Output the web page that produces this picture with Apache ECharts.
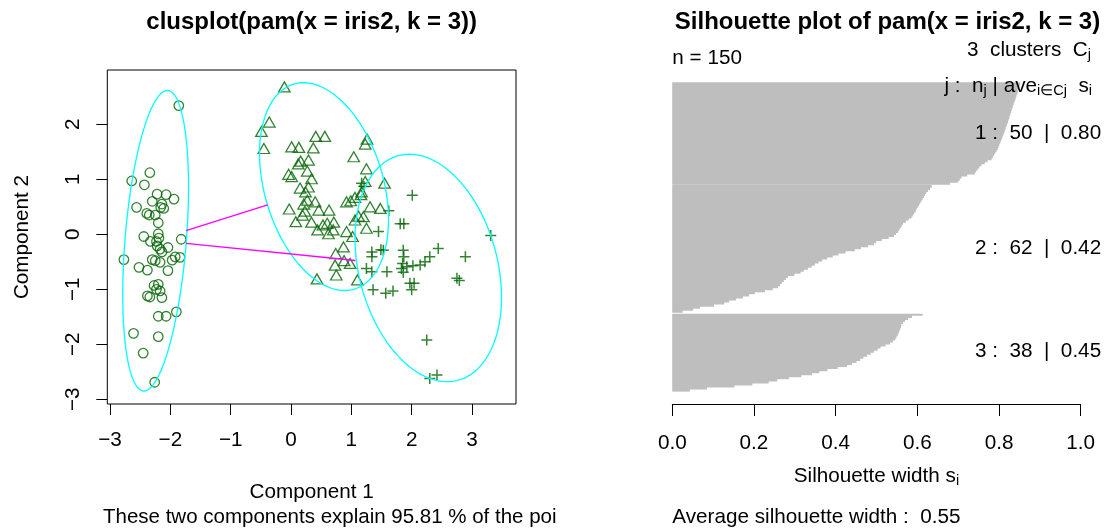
<!DOCTYPE html>
<html><head><meta charset="utf-8">
<script src="https://cdn.jsdelivr.net/npm/echarts@6/dist/echarts.min.js"></script>
<style>html,body{margin:0;padding:0;background:#fff}#c{width:1112px;height:528px}</style>
</head><body><div id="c"></div>
<script>
// ---------- clusplot data (Component 1 / Component 2) ----------
const clus1X = [-1.86,-2.34,-2.64,-2.43,-2.22,-2.07,-1.94,-2.30,-2.14,-2.56,-2.16,-2.11,-2.39,-2.35,-2.25,-2.20,-2.20,-2.44,-1.82,-2.33,-2.23,-2.22,-2.04,-2.17,-2.14,-2.77,-1.84,-1.92,-2.30,-2.25,-2.17,-1.97,-2.52,-2.38,-2.04,-2.20,-2.23,-2.17,-2.38,-2.34,-2.14,-1.90,-2.20,-2.07,-2.61,-2.20,-2.45,-2.26,-2.19,-2.27];
const clus1Y = [2.34,1.12,0.97,0.90,0.73,0.72,0.64,0.60,0.55,0.49,0.49,0.47,0.38,0.35,0.35,0.21,0.01,-0.04,-0.09,-0.13,-0.13,-0.21,-0.24,-0.27,-0.32,-0.46,-0.42,-0.41,-0.46,-0.48,-0.51,-0.47,-0.60,-0.65,-0.66,-0.91,-1.00,-1.03,-1.12,-1.14,-1.15,-1.41,-1.49,-1.49,-1.80,-1.86,-2.16,-2.69,-0.07,-0.93];
const clus2X = [-0.11,-0.36,-0.49,-0.45,0.41,0.56,0.01,0.13,0.37,1.26,1.23,1.04,0.16,0.29,1.25,0.27,-0.04,0.01,0.34,1.23,1.55,0.15,0.29,0.24,1.16,1.06,0.99,0.27,0.40,-0.03,0.23,0.46,0.63,1.31,1.48,0.19,0.08,0.34,0.60,0.71,1.12,1.06,1.25,0.44,0.62,0.70,0.92,1.02,0.87,0.74,0.73,0.88,0.75,0.43,1.10,0.98,0.92,1.20,1.17,0.21,0.12,0.53];
const clus2Y = [2.68,2.04,1.87,1.56,1.78,1.78,1.59,1.58,1.57,1.73,1.64,1.41,1.33,1.35,1.19,1.15,1.09,1.05,1.01,0.96,0.93,0.84,0.86,0.77,0.72,0.67,0.61,0.62,0.59,0.46,0.42,0.44,0.44,0.50,0.47,0.35,0.23,0.22,0.20,0.22,0.33,0.26,0.11,0.08,0.01,0.08,0.05,-0.04,-0.23,-0.35,-0.56,-0.48,-0.74,-0.81,-0.83,-0.53,0.59,0.32,0.77,0.55,1.28,0.17];
const clus3X = [1.21,2.01,1.62,1.81,1.87,1.45,3.31,1.49,1.53,1.34,1.34,1.86,1.87,2.44,2.89,2.30,2.22,2.02,2.14,1.85,1.83,1.92,1.86,1.25,1.34,1.59,2.75,2.79,1.97,2.04,2.00,1.36,1.57,1.69,2.25,2.30,2.42,1.17];
const clus3Y = [0.87,0.71,0.43,0.19,0.19,0.05,-0.02,-0.28,-0.29,-0.32,-0.41,-0.29,-0.41,-0.26,-0.41,-0.41,-0.50,-0.57,-0.56,-0.53,-0.62,-0.59,-0.69,-0.62,-0.68,-0.68,-0.80,-0.84,-0.89,-0.89,-1.01,-1.01,-1.07,-1.03,-1.92,-2.62,-2.56,0.93];

// spanning ellipses: centre, half x-extent, half y-extent, x offset of the topmost point
const ellCx = [-2.244, 0.547, 2.275];
const ellCy = [-0.117, 0.867, -0.612];
const ellHalfW = [0.545, 1.069, 1.214];
const ellHalfH = [2.732, 1.889, 2.068];
const ellTopDx = [0.194, -0.341, -0.3125];

// connecting segments between ellipses
const segX1 = [-1.74, -1.74];
const segY1 = [0.065, -0.164];
const segX2 = [-0.386, 1.069];
const segY2 = [0.533, -0.476];

const xTicksLeft = [-3,-2,-1,0,1,2,3];
const yTicksLeft = [-3,-2,-1,0,1,2];

// ---------- silhouette widths (sorted within cluster, top first) ----------
const silC1 = [0.852,0.851,0.849,0.848,0.846,0.845,0.843,0.841,0.840,0.838,0.836,0.834,0.833,0.831,0.830,0.828,0.826,0.825,0.823,0.822,0.820,0.818,0.816,0.815,0.813,0.811,0.809,0.807,0.805,0.803,0.801,0.799,0.797,0.794,0.791,0.788,0.785,0.782,0.772,0.765,0.757,0.752,0.748,0.744,0.741,0.722,0.708,0.704,0.700,0.680];
const silC2 = [0.635,0.631,0.626,0.622,0.619,0.616,0.613,0.610,0.607,0.604,0.601,0.598,0.596,0.592,0.589,0.586,0.579,0.572,0.565,0.562,0.559,0.556,0.553,0.548,0.543,0.530,0.513,0.499,0.494,0.479,0.462,0.447,0.424,0.407,0.393,0.379,0.367,0.358,0.349,0.341,0.332,0.322,0.314,0.299,0.283,0.278,0.273,0.268,0.264,0.259,0.246,0.227,0.202,0.188,0.173,0.156,0.139,0.127,0.102,0.068,0.051,0.025];
const silC3 = [0.613,0.587,0.577,0.570,0.565,0.561,0.560,0.558,0.556,0.554,0.552,0.549,0.546,0.540,0.533,0.522,0.510,0.503,0.494,0.486,0.477,0.468,0.460,0.451,0.440,0.428,0.405,0.380,0.360,0.342,0.316,0.286,0.257,0.236,0.196,0.152,0.085,0.043];
const silTicks = [0,0.2,0.4,0.6,0.8,1.0];
const clusterLabels = ['1 :  50  |  0.80','2 :  62  |  0.42','3 :  38  |  0.45'];

// ---------- build ----------
const FONT = '"Liberation Sans", Arial, Helvetica, sans-serif';
const FS = 20.7;
const GREEN = '#006400';
const minusFmt = v => (v < 0 ? '\u2212' + Math.abs(v) : String(v));

const ellData = ellCx.map((c, i) => [c, ellCy[i], ellHalfW[i], ellHalfH[i], ellTopDx[i]]);
const segData = segX1.map((x, i) => [x, segY1[i], segX2[i], segY2[i]]);

// bars from the bottom up: cluster 3, gap, cluster 2, gap, cluster 1 ; third field = overlap (px) to avoid seams
const silBars = [];
(function () {
  let pos = 0;
  [silC3, silC2, silC1].forEach((arr, ci) => {
    if (ci > 0) pos += 0.5;
    for (let i = arr.length - 1; i >= 0; i--) {
      const ext = (i > 0 || ci === 1) ? 1 : 0;
      silBars.push([arr[i], pos, ext]); pos += 1;
    }
  });
})();
const silTop = silBars[silBars.length - 1][1] + 1;
const silPad = 0.04 * silTop;

const pointStyle = { color: 'rgba(0,0,0,0)', borderColor: GREEN, borderWidth: 1.3 };
const txt = (x, y, text, opts) => Object.assign({ type: 'text', x: x, y: y, z: 100,
  style: Object.assign({ text: text, font: FS + 'px ' + FONT, align: 'left', verticalAlign: 'middle', fill: '#000' }, opts || {}) });
const richSub = { m: { fontSize: FS, fontFamily: FONT, lineHeight: 30, color: '#000' },
                  s: { fontSize: 14.5, fontFamily: FONT, padding: [10, 0, 0, 0], color: '#000' } };

const chart = echarts.init(document.getElementById('c'), null, { renderer: 'canvas' });
chart.setOption({
  animation: false,
  backgroundColor: '#fff',
  grid: [
    { left: 107.3, top: 70, width: 408.7, height: 334, show: true, borderColor: '#000', borderWidth: 1, backgroundColor: 'transparent' },
    { left: 672.3, top: 70, width: 408.4, height: 334, show: false }
  ],
  xAxis: [
    { type: 'value', gridIndex: 0, min: -3.045, max: 3.729, position: 'bottom',
      axisLine: { show: false, onZero: false }, splitLine: { show: false },
      axisTick: { show: true, inside: false, length: 11, lineStyle: { color: '#000', width: 1 }, customValues: xTicksLeft },
      axisLabel: { show: true, customValues: xTicksLeft, formatter: minusFmt, margin: 26, fontSize: FS, color: '#000', fontFamily: FONT } },
    { type: 'value', gridIndex: 1, min: 0, max: 1, interval: 0.2, position: 'bottom',
      axisLine: { show: true, onZero: false, lineStyle: { color: '#000', width: 1 } }, splitLine: { show: false },
      axisTick: { show: true, inside: false, length: 12, lineStyle: { color: '#000', width: 1 } },
      axisLabel: { formatter: v => v.toFixed(1), margin: 29, fontSize: FS, color: '#000', fontFamily: FONT } }
  ],
  yAxis: [
    { type: 'value', gridIndex: 0, min: -3.085, max: 2.987, position: 'left',
      axisLine: { show: false, onZero: false }, splitLine: { show: false },
      axisTick: { show: true, inside: false, length: 11, lineStyle: { color: '#000', width: 1 }, customValues: yTicksLeft },
      axisLabel: { show: true, customValues: yTicksLeft, formatter: minusFmt, rotate: 90, margin: 24, fontSize: FS, color: '#000', fontFamily: FONT } },
    { type: 'value', gridIndex: 1, min: -silPad, max: silTop + silPad, show: false }
  ],
  series: [
    { type: 'custom', xAxisIndex: 1, yAxisIndex: 1, data: silBars, encode: { x: 0, y: 1 }, z: 1,
      renderItem: function (params, api) {
        const s = api.value(0), yb = api.value(1), ext = api.value(2);
        const p0 = api.coord([0, yb + 1]);
        const p1 = api.coord([s, yb]);
        return { type: 'rect', shape: { x: p0[0], y: p0[1] - ext, width: p1[0] - p0[0], height: p1[1] - p0[1] + ext },
                 style: { fill: '#BEBEBE', stroke: null } };
      } },
    { type: 'scatter', xAxisIndex: 0, yAxisIndex: 0, symbol: 'circle', symbolSize: 9.5, itemStyle: pointStyle,
      data: clus1X.map((x, i) => [x, clus1Y[i]]), z: 3 },
    { type: 'scatter', xAxisIndex: 0, yAxisIndex: 0, symbol: 'triangle', symbolSize: [11.5, 10], itemStyle: pointStyle,
      data: clus2X.map((x, i) => [x, clus2Y[i]]), z: 3 },
    { type: 'scatter', xAxisIndex: 0, yAxisIndex: 0, symbol: 'path://M0,5L10,5M5,0L5,10', symbolSize: 11,
      itemStyle: { color: 'none', borderColor: GREEN, borderWidth: 1.5 },
      data: clus3X.map((x, i) => [x, clus3Y[i]]), z: 3 },
    { type: 'custom', xAxisIndex: 0, yAxisIndex: 0, data: ellData, encode: { x: 0, y: 1 }, z: 4, clip: true,
      renderItem: function (params, api) {
        const cx = api.value(0), cy = api.value(1), a = api.value(2), b = api.value(3), d = api.value(4);
        const delta = Math.acos(d / a);
        const pts = [];
        for (let k = 0; k <= 180; k++) {
          const t = k / 180 * 2 * Math.PI;
          pts.push(api.coord([cx + a * Math.cos(t - delta), cy + b * Math.cos(t)]));
        }
        return { type: 'polyline', shape: { points: pts }, style: { stroke: '#00FFFF', fill: null, lineWidth: 1.3 } };
      } },
    { type: 'custom', xAxisIndex: 0, yAxisIndex: 0, data: segData, encode: { x: [0, 2], y: [1, 3] }, z: 4,
      renderItem: function (params, api) {
        const p1 = api.coord([api.value(0), api.value(1)]);
        const p2 = api.coord([api.value(2), api.value(3)]);
        return { type: 'line', shape: { x1: p1[0], y1: p1[1], x2: p2[0], y2: p2[1] }, style: { stroke: '#FF00FF', lineWidth: 1.3 } };
      } }
  ],
  graphic: [
    txt(311.7, 22, 'clusplot(pam(x = iris2, k = 3))', { font: 'bold 24px ' + FONT, align: 'center' }),
    txt(887.5, 22, 'Silhouette plot of pam(x = iris2, k = 3)', { font: 'bold 24px ' + FONT, align: 'center' }),
    txt(311.7, 492, 'Component 1', { align: 'center' }),
    txt(103, 517, 'These two components explain 95.81 % of the poi', { font: '20.5px ' + FONT }),
    Object.assign(txt(22, 237, 'Component 2', { align: 'center' }), { rotation: Math.PI / 2 }),
    txt(672.3, 58, 'n = 150'),
    { type: 'text', x: 1091, y: 50, z: 100, style: { text: '{m|3  clusters  C}{s|j}', align: 'right', verticalAlign: 'middle', rich: richSub } },
    { type: 'text', x: 1092, y: 86, z: 100, style: { text: '{m|j :  n}{s|j}{m| | ave}{s|i\u2208Cj}{m|  s}{s|i}', align: 'right', verticalAlign: 'middle', rich: richSub } },
    txt(975, 133, clusterLabels[0]),
    txt(975, 248, clusterLabels[1]),
    txt(975, 351, clusterLabels[2]),
    { type: 'text', x: 876.5, y: 476, z: 100, style: { text: '{m|Silhouette width s}{s|i}', align: 'center', verticalAlign: 'middle', rich: richSub } },
    txt(672.3, 517, 'Average silhouette width :  0.55')
  ]
});
</script>
</body></html>
